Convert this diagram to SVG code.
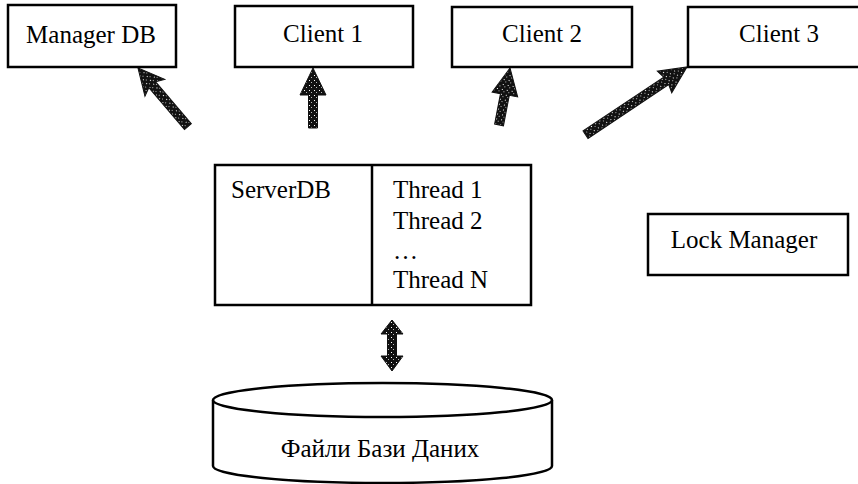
<svg xmlns="http://www.w3.org/2000/svg" width="858" height="484" viewBox="0 0 858 484">
<style>
.box{fill:#fff;stroke:#000;stroke-width:2.5}
.t{font-family:"Liberation Serif","Times New Roman",serif;font-size:25px;fill:#000}
.m{text-anchor:middle}
.arr{fill:url(#speckle);stroke:#111;stroke-width:1}
</style>
<defs>
<pattern id="speckle" width="5" height="5" patternUnits="userSpaceOnUse">
<rect width="5" height="5" fill="#111"/>
<rect x="1" y="2" width="1" height="1" fill="#fff"/>
<rect x="3" y="4" width="1" height="1" fill="#bbb"/>
</pattern>
</defs>
<rect width="858" height="484" fill="#fff"/>
<g id="connectors">
<path class="arr" transform="translate(138,68) rotate(-40.4)" d="M0,0 L13,26 L4.5,22 L4.5,77 L-4.5,77 L-4.5,22 L-13,26 Z"/>
<path class="arr" transform="translate(313,68)" d="M0,0 L13,27 L4.5,27 L4.5,60 L-4.5,60 L-4.5,27 L-13,27 Z"/>
<path class="arr" transform="translate(510,68) rotate(10.9)" d="M0,0 L13,27 L4.5,27 L4.5,58 L-4.5,58 L-4.5,27 L-13,27 Z"/>
<path class="arr" transform="translate(687,67) rotate(56.3)" d="M0,0 L13,27 L4.5,25 L4.5,122 L-4.5,122 L-4.5,25 L-13,27 Z"/>
<path class="arr" d="M392,320 L403,334 L396.5,334 L396.5,356 L403,356 L392,371 L381,356 L387.5,356 L387.5,334 L381,334 Z"/>
</g>
<g id="manager-db">
<rect class="box" x="8" y="5" width="168" height="62"/>
<text class="t m" x="91" y="43">Manager DB</text>
</g>
<g id="client-1">
<rect class="box" x="235" y="6" width="178" height="61"/>
<text class="t m" x="323" y="42">Client 1</text>
</g>
<g id="client-2">
<rect class="box" x="452" y="7" width="180" height="60"/>
<text class="t m" x="542" y="42">Client 2</text>
</g>
<g id="client-3">
<rect class="box" x="688" y="7" width="185" height="60"/>
<text class="t m" x="779" y="42">Client 3</text>
</g>
<g id="server-db">
<rect class="box" x="215" y="165" width="316" height="140"/>
<line x1="372" y1="165" x2="372" y2="305" stroke="#000" stroke-width="2.5"/>
<text class="t" x="231" y="198">ServerDB</text>
<text class="t" x="393" y="198">Thread 1</text>
<text class="t" x="393" y="229">Thread 2</text>
<text class="t" x="393" y="259">…</text>
<text class="t" x="393" y="288">Thread N</text>
</g>
<g id="lock-manager">
<rect class="box" x="648" y="214" width="200" height="61"/>
<text class="t m" x="744" y="248">Lock Manager</text>
</g>
<g id="db-files">
<path class="box" d="M213,400 L213,466 A169.5,17 0 0 0 552,466 L552,400"/>
<ellipse class="box" cx="382.5" cy="400" rx="169.5" ry="17"/>
<text class="t m" x="380" y="457">Файли Бази Даних</text>
</g>
</svg>
